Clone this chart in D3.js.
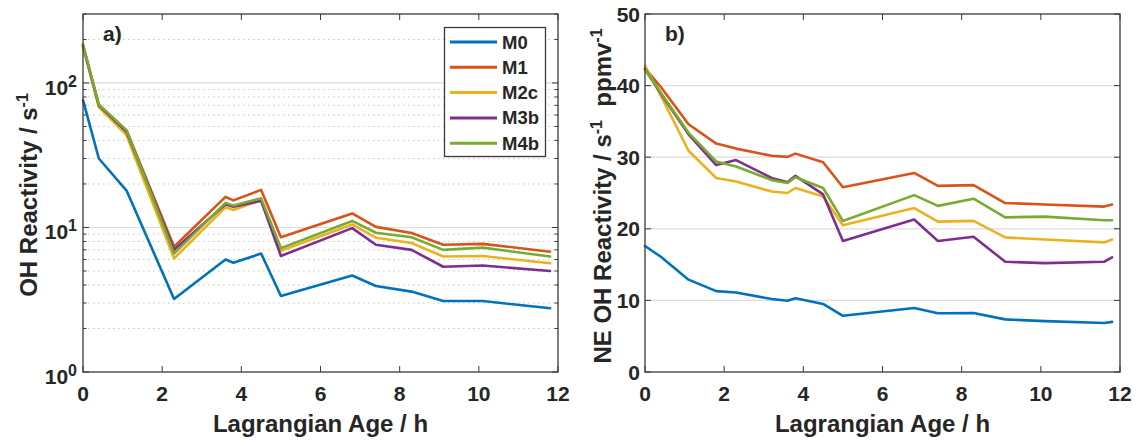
<!DOCTYPE html>
<html>
<head>
<meta charset="utf-8">
<script src="https://cdn.jsdelivr.net/npm/d3@7"></script>
<style>
  body { margin: 0; background: #fff; }
  text { font-family: "Liberation Sans", Arial, Helvetica, sans-serif; font-weight: bold; fill: #262626; }
</style>
</head>
<body>
<svg id="chart" width="1136" height="445"></svg>
<script>
// Model runs and their line colours
const models = ["M0", "M1", "M2c", "M3b", "M4b"];
const colors = ["#0072BD", "#D95319", "#EDB120", "#7E2F8E", "#77AC30"];
const xTicks = [0, 2, 4, 6, 8, 10, 12];
const linTicks = [0, 10, 20, 30, 40, 50];

// a) total OH reactivity (s^-1) along the Lagrangian age (h)
const ageA = [0, 0.4, 1.1, 2.3, 3.6, 3.8, 4.5, 5.0, 6.8, 7.4, 8.3, 9.1, 10.1, 11.8];
const ohM0  = [76, 30, 18, 3.2, 6.0, 5.7, 6.6, 3.36, 4.65, 3.94, 3.6, 3.1, 3.1, 2.76];
const ohM1  = [180, 70, 47, 7.35, 16.3, 15.4, 18.2, 8.55, 12.5, 10.1, 9.15, 7.6, 7.7, 6.8];
const ohM2c = [180, 68, 43.5, 6.1, 13.8, 13.2, 15.5, 6.9, 10.5, 8.5, 7.8, 6.3, 6.35, 5.65];
const ohM3b = [182, 70, 46, 7.0, 14.5, 13.9, 15.3, 6.35, 9.9, 7.6, 7.0, 5.35, 5.45, 5.0];
const ohM4b = [185, 71, 47, 6.6, 14.8, 14.2, 15.9, 7.2, 11.1, 9.2, 8.55, 7.0, 7.25, 6.3];

// b) normalised-emission OH reactivity (s^-1 ppmv^-1)
const ageB = [0, 0.4, 1.1, 1.8, 2.3, 3.2, 3.6, 3.8, 4.5, 5.0, 6.8, 7.4, 8.3, 9.1, 10.1, 11.6, 11.8];
const neM0  = [17.6, 16.1, 12.9, 11.3, 11.1, 10.2, 9.95, 10.3, 9.5, 7.85, 8.95, 8.2, 8.25, 7.35, 7.1, 6.85, 7.0];
const neM1  = [42.4, 39.8, 34.6, 31.9, 31.2, 30.2, 30.05, 30.5, 29.3, 25.8, 27.8, 26.0, 26.1, 23.6, 23.4, 23.1, 23.4];
const neM2c = [42.8, 38.6, 30.9, 27.1, 26.6, 25.2, 25.0, 25.7, 24.5, 20.5, 22.9, 21.0, 21.1, 18.8, 18.5, 18.1, 18.5];
const neM3b = [42.3, 38.9, 33.2, 28.9, 29.6, 27.1, 26.5, 27.4, 24.8, 18.3, 21.3, 18.3, 18.9, 15.4, 15.2, 15.4, 16.0];
const neM4b = [42.2, 39.0, 33.4, 29.4, 28.7, 26.8, 26.4, 27.2, 25.7, 21.1, 24.7, 23.2, 24.2, 21.6, 21.7, 21.2, 21.2];

const seriesA = [ohM0, ohM1, ohM2c, ohM3b, ohM4b];
const seriesB = [neM0, neM1, neM2c, neM3b, neM4b];

const svg = d3.select("#chart");
svg.append("rect").attr("width", 1136).attr("height", 445).attr("fill", "#fff");

const plotTop = 14, plotBottom = 372;
const axisColor = "#3a3a3a";

function drawXAxis(g, x) {
  const [x0, x1] = x.range();
  xTicks.forEach(t => {
    g.append("line").attr("x1", x(t)).attr("x2", x(t)).attr("y1", plotBottom).attr("y2", plotBottom - 6)
      .attr("stroke", axisColor).attr("stroke-width", 1);
    g.append("line").attr("x1", x(t)).attr("x2", x(t)).attr("y1", plotTop).attr("y2", plotTop + 6)
      .attr("stroke", axisColor).attr("stroke-width", 1);
    g.append("text").attr("x", x(t)).attr("y", 401).attr("text-anchor", "middle")
      .attr("font-size", 21).text(t);
  });
  g.append("text").attr("x", (x0 + x1) / 2).attr("y", 432).attr("text-anchor", "middle")
    .attr("font-size", 24).text("Lagrangian Age / h");
}

function drawBox(g, x) {
  const [x0, x1] = x.range();
  g.append("rect").attr("x", x0).attr("y", plotTop).attr("width", x1 - x0).attr("height", plotBottom - plotTop)
    .attr("fill", "none").attr("stroke", axisColor).attr("stroke-width", 1.3);
}

function drawLines(g, x, y, age, series) {
  const line = d3.line().x((d, i) => x(age[i])).y(d => y(d));
  series.forEach((s, k) => {
    g.append("path").datum(s).attr("d", line).attr("fill", "none")
      .attr("stroke", colors[k]).attr("stroke-width", 2.6)
      .attr("stroke-linejoin", "round").attr("stroke-linecap", "round");
  });
}

// ---------- panel a (log scale) ----------
const xA = d3.scaleLinear().domain([0, 12]).range([83, 558]);
const yA = d3.scaleLog().domain([1, 300]).range([plotBottom, plotTop]);
const gA = svg.append("g");

const majorA = [1, 10, 100];
const minorA = [];
[1, 10, 100].forEach(k => { for (let m = 2; m <= 9; m++) if (k * m <= 300) minorA.push(k * m); });

// dotted minor grid and solid major grid
minorA.filter(v => v < 300).forEach(v => {
  gA.append("line").attr("x1", xA(0)).attr("x2", xA(12)).attr("y1", yA(v)).attr("y2", yA(v))
    .attr("stroke", "#c4c4c4").attr("stroke-width", 1).attr("stroke-dasharray", "1.5,3.5");
});
[10, 100].forEach(v => {
  gA.append("line").attr("x1", xA(0)).attr("x2", xA(12)).attr("y1", yA(v)).attr("y2", yA(v))
    .attr("stroke", "#dcdcdc").attr("stroke-width", 1.2);
});
// log ticks on both sides
majorA.forEach(v => {
  [[83, 89], [558, 552]].forEach(([a, b]) => {
    gA.append("line").attr("x1", a).attr("x2", b).attr("y1", yA(v)).attr("y2", yA(v))
      .attr("stroke", axisColor).attr("stroke-width", 1);
  });
  const t = gA.append("text").attr("x", 77).attr("y", yA(v) + 12).attr("text-anchor", "end").attr("font-size", 21);
  t.append("tspan").text("10");
  t.append("tspan").attr("dy", -8).attr("font-size", 16).text(Math.round(Math.log10(v)));
});
minorA.forEach(v => {
  [[83, 86.5], [558, 554.5]].forEach(([a, b]) => {
    gA.append("line").attr("x1", a).attr("x2", b).attr("y1", yA(v)).attr("y2", yA(v))
      .attr("stroke", axisColor).attr("stroke-width", 1);
  });
});
drawXAxis(gA, xA);
drawLines(gA, xA, yA, ageA, seriesA);
drawBox(gA, xA);

// y title a
const ytA = gA.append("text").attr("transform", "translate(37,195) rotate(-90)")
  .attr("text-anchor", "middle").attr("font-size", 24);
ytA.append("tspan").text("OH Reactivity / s");
ytA.append("tspan").attr("dy", -9).attr("font-size", 16).text("-1");

gA.append("text").attr("x", 103).attr("y", 41).attr("font-size", 21).text("a)");

// legend
const lg = gA.append("g");
lg.append("rect").attr("x", 444.5).attr("y", 27.5).attr("width", 101).attr("height", 129)
  .attr("fill", "#fff").attr("stroke", axisColor).attr("stroke-width", 1.3);
models.forEach((m, i) => {
  const cy = 42 + i * 25.3;
  lg.append("line").attr("x1", 450).attr("x2", 497).attr("y1", cy).attr("y2", cy)
    .attr("stroke", colors[i]).attr("stroke-width", 3);
  lg.append("text").attr("x", 502).attr("y", cy + 6.5).attr("font-size", 18.5).text(m);
});

// ---------- panel b (linear scale) ----------
const xB = d3.scaleLinear().domain([0, 12]).range([645, 1120]);
const yB = d3.scaleLinear().domain([0, 50]).range([plotBottom, plotTop]);
const gB = svg.append("g");

linTicks.filter(v => v > 0 && v < 50).forEach(v => {
  gB.append("line").attr("x1", xB(0)).attr("x2", xB(12)).attr("y1", yB(v)).attr("y2", yB(v))
    .attr("stroke", "#dcdcdc").attr("stroke-width", 1.2);
});
linTicks.forEach(v => {
  [[645, 651], [1120, 1114]].forEach(([a, b]) => {
    gB.append("line").attr("x1", a).attr("x2", b).attr("y1", yB(v)).attr("y2", yB(v))
      .attr("stroke", axisColor).attr("stroke-width", 1);
  });
  gB.append("text").attr("x", 640).attr("y", yB(v) + 7.5).attr("text-anchor", "end")
    .attr("font-size", 21).text(v);
});
drawXAxis(gB, xB);
drawLines(gB, xB, yB, ageB, seriesB);
drawBox(gB, xB);

const ytB = gB.append("text").attr("transform", "translate(611,196) rotate(-90)")
  .attr("text-anchor", "middle").attr("font-size", 24);
ytB.append("tspan").text("NE OH Reactivity / s");
ytB.append("tspan").attr("dy", -9).attr("font-size", 16).text("-1");
ytB.append("tspan").attr("dy", 9).text("\u00a0\u00a0ppmv");
ytB.append("tspan").attr("dy", -9).attr("font-size", 16).text("-1");

gB.append("text").attr("x", 665).attr("y", 41).attr("font-size", 21).text("b)");
</script>
</body>
</html>
